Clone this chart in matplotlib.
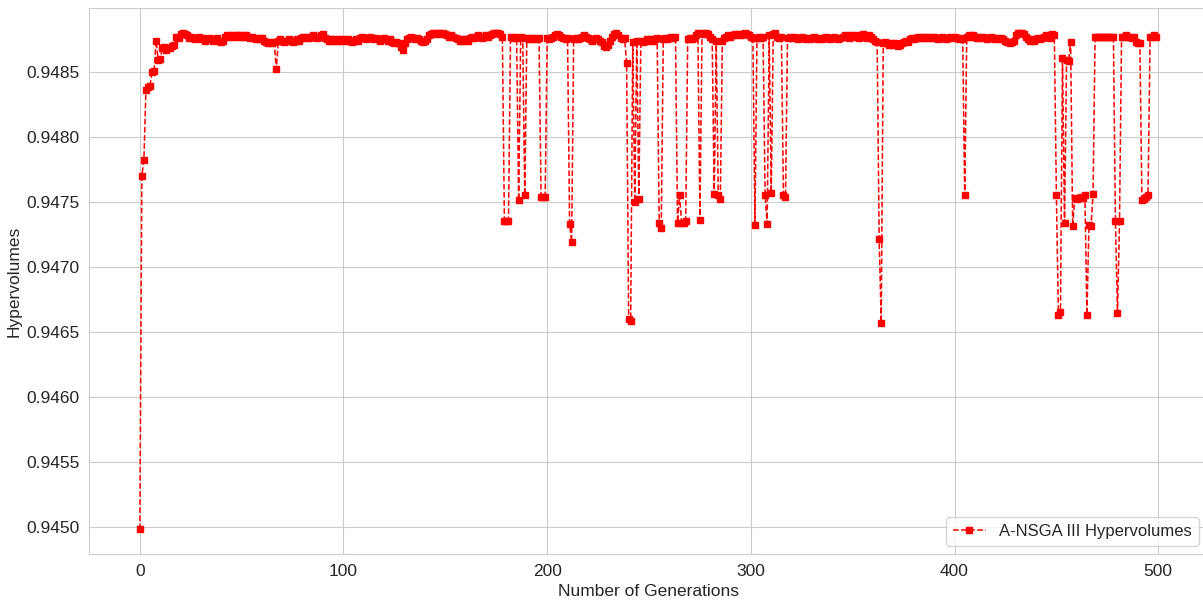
import matplotlib
matplotlib.use("Agg")
import matplotlib.pyplot as plt
from matplotlib.ticker import FormatStrFormatter
import seaborn as sns

# hypervolume of the A-NSGA III front, one value per generation (0..499)
hypervolumes = [
    0.94498, 0.94770, 0.94782, 0.94836, 0.94838, 0.94839, 0.94850, 0.94851, 0.94874, 0.94859,
    0.94860, 0.94868, 0.94869, 0.94867, 0.94868, 0.94868, 0.94870, 0.94871, 0.94877, 0.94876,
    0.94879, 0.94880, 0.94879, 0.94878, 0.94876, 0.94877, 0.94876, 0.94875, 0.94876, 0.94877,
    0.94875, 0.94876, 0.94874, 0.94875, 0.94876, 0.94875, 0.94874, 0.94875, 0.94876, 0.94874,
    0.94873, 0.94874, 0.94877, 0.94878, 0.94877, 0.94878, 0.94877, 0.94878, 0.94878, 0.94877,
    0.94878, 0.94877, 0.94878, 0.94877, 0.94876, 0.94877, 0.94876, 0.94875, 0.94876, 0.94875,
    0.94876, 0.94874, 0.94873, 0.94872, 0.94873, 0.94872, 0.94873, 0.94852, 0.94874, 0.94875,
    0.94874, 0.94873, 0.94874, 0.94875, 0.94874, 0.94873, 0.94874, 0.94875, 0.94874, 0.94876,
    0.94877, 0.94876, 0.94877, 0.94876, 0.94877, 0.94878, 0.94877, 0.94876, 0.94877, 0.94878,
    0.94879, 0.94876, 0.94875, 0.94874, 0.94875, 0.94874, 0.94875, 0.94874, 0.94875, 0.94874,
    0.94875, 0.94874, 0.94875, 0.94874, 0.94873, 0.94874, 0.94875, 0.94874, 0.94876, 0.94877,
    0.94876, 0.94875, 0.94876, 0.94877, 0.94876, 0.94875, 0.94876, 0.94875, 0.94874, 0.94875,
    0.94876, 0.94875, 0.94874, 0.94875, 0.94873, 0.94872, 0.94873, 0.94872, 0.94869, 0.94867,
    0.94872, 0.94875, 0.94876, 0.94877, 0.94876, 0.94875, 0.94876, 0.94875, 0.94874, 0.94873,
    0.94874, 0.94875, 0.94878, 0.94879, 0.94880, 0.94879, 0.94880, 0.94880, 0.94879, 0.94880,
    0.94879, 0.94878, 0.94877, 0.94878, 0.94877, 0.94876, 0.94875, 0.94874, 0.94875, 0.94874,
    0.94875, 0.94874, 0.94876, 0.94877, 0.94876, 0.94877, 0.94878, 0.94877, 0.94876, 0.94877,
    0.94878, 0.94877, 0.94878, 0.94879, 0.94880, 0.94880, 0.94880, 0.94879, 0.94877, 0.94735,
    0.94735, 0.94735, 0.94877, 0.94876, 0.94877, 0.94876, 0.94751, 0.94877, 0.94876, 0.94755,
    0.94876, 0.94875, 0.94876, 0.94875, 0.94876, 0.94875, 0.94876, 0.94754, 0.94754, 0.94754,
    0.94876, 0.94875, 0.94876, 0.94877, 0.94878, 0.94879, 0.94878, 0.94877, 0.94876, 0.94875,
    0.94876, 0.94733, 0.94719, 0.94875, 0.94876, 0.94875, 0.94876, 0.94877, 0.94878, 0.94877,
    0.94876, 0.94875, 0.94874, 0.94875, 0.94876, 0.94875, 0.94874, 0.94873, 0.94870, 0.94869,
    0.94871, 0.94874, 0.94877, 0.94879, 0.94880, 0.94878, 0.94876, 0.94875, 0.94876, 0.94857,
    0.94660, 0.94658, 0.94873, 0.94750, 0.94874, 0.94752, 0.94874, 0.94873, 0.94874, 0.94875,
    0.94874, 0.94875, 0.94874, 0.94875, 0.94876, 0.94734, 0.94730, 0.94875, 0.94876, 0.94875,
    0.94876, 0.94877, 0.94876, 0.94877, 0.94734, 0.94755, 0.94734, 0.94734, 0.94735, 0.94875,
    0.94876, 0.94875, 0.94876, 0.94878, 0.94880, 0.94736, 0.94880, 0.94879, 0.94880, 0.94879,
    0.94877, 0.94875, 0.94756, 0.94874, 0.94755, 0.94752, 0.94874, 0.94876, 0.94877, 0.94878,
    0.94877, 0.94878, 0.94879, 0.94878, 0.94879, 0.94878, 0.94879, 0.94880, 0.94879, 0.94878,
    0.94877, 0.94876, 0.94732, 0.94876, 0.94877, 0.94876, 0.94877, 0.94755, 0.94733, 0.94878,
    0.94757, 0.94879, 0.94880, 0.94877, 0.94876, 0.94877, 0.94755, 0.94754, 0.94876, 0.94877,
    0.94876, 0.94877, 0.94876, 0.94875, 0.94876, 0.94877, 0.94876, 0.94875, 0.94876, 0.94875,
    0.94876, 0.94877, 0.94876, 0.94875, 0.94876, 0.94875, 0.94876, 0.94877, 0.94876, 0.94875,
    0.94876, 0.94877, 0.94876, 0.94875, 0.94876, 0.94877, 0.94878, 0.94877, 0.94876, 0.94878,
    0.94877, 0.94878, 0.94877, 0.94876, 0.94878, 0.94879, 0.94877, 0.94876, 0.94878, 0.94877,
    0.94875, 0.94874, 0.94873, 0.94721, 0.94657, 0.94872, 0.94873, 0.94872, 0.94871, 0.94872,
    0.94871, 0.94872, 0.94870, 0.94871, 0.94872, 0.94873, 0.94874, 0.94873, 0.94875, 0.94876,
    0.94875, 0.94876, 0.94877, 0.94876, 0.94877, 0.94876, 0.94877, 0.94876, 0.94877, 0.94876,
    0.94877, 0.94876, 0.94875, 0.94876, 0.94877, 0.94876, 0.94875, 0.94876, 0.94877, 0.94876,
    0.94877, 0.94876, 0.94875, 0.94876, 0.94875, 0.94755, 0.94877, 0.94878, 0.94877, 0.94878,
    0.94877, 0.94876, 0.94877, 0.94876, 0.94877, 0.94876, 0.94875, 0.94876, 0.94877, 0.94876,
    0.94875, 0.94876, 0.94875, 0.94876, 0.94875, 0.94874, 0.94873, 0.94872, 0.94873, 0.94874,
    0.94878, 0.94880, 0.94880, 0.94880, 0.94879, 0.94877, 0.94875, 0.94874, 0.94875, 0.94874,
    0.94875, 0.94876, 0.94875, 0.94876, 0.94877, 0.94878, 0.94877, 0.94876, 0.94879, 0.94878,
    0.94755, 0.94663, 0.94665, 0.94861, 0.94734, 0.94859, 0.94858, 0.94873, 0.94731, 0.94753,
    0.94752, 0.94753, 0.94754, 0.94753, 0.94755, 0.94663, 0.94732, 0.94731, 0.94756, 0.94877,
    0.94877, 0.94877, 0.94877, 0.94877, 0.94877, 0.94877, 0.94877, 0.94877, 0.94877, 0.94735,
    0.94664, 0.94735, 0.94877, 0.94877, 0.94878, 0.94877, 0.94877, 0.94876, 0.94877, 0.94873,
    0.94872, 0.94872, 0.94751, 0.94752, 0.94754, 0.94755, 0.94877, 0.94877, 0.94878, 0.94877,
]
generations = list(range(len(hypervolumes)))

series_label = "A-NSGA III Hypervolumes"
x_label = "Number of Generations"
y_label = "Hypervolumes"

sns.set_style("whitegrid")
plt.rcParams['font.family'] = ['Liberation Sans', 'DejaVu Sans']

fig = plt.figure(figsize=(12.03, 6.03), dpi=100)
ax = fig.add_axes([89 / 1203, 49 / 603, 1118 / 1203, 546 / 603])

ax.plot(generations, hypervolumes, color='red', linestyle='--', marker='s',
        markersize=5, linewidth=1.1, label=series_label)

ax.set_xlabel(x_label, fontsize=12.5, labelpad=4)
ax.set_ylabel(y_label, fontsize=12.5, labelpad=3)
ax.tick_params(labelsize=12.5)
ax.yaxis.set_major_formatter(FormatStrFormatter('%.4f'))
ax.legend(loc='lower right', fontsize=12)

fig.savefig('out.png', dpi=100)
